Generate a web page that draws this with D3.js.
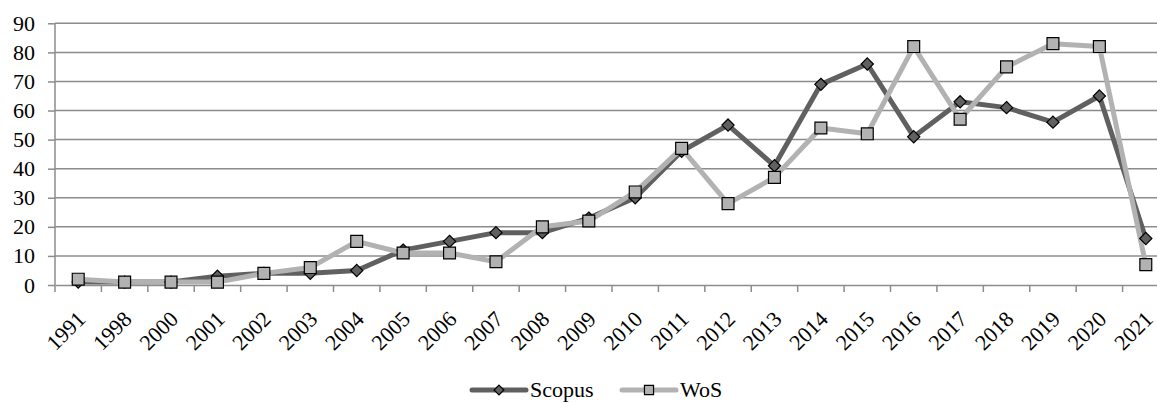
<!DOCTYPE html>
<html>
<head>
<meta charset="utf-8">
<script src="https://cdn.jsdelivr.net/npm/d3@7"></script>
<style>
  body { margin: 0; background: #fff; }
  svg { display: block; }
  svg text { font-family: "Liberation Serif", "Times New Roman", "DejaVu Serif", serif; }
</style>
</head>
<body>
<svg id="chart" width="1157" height="403"></svg>
<script>
var years = ['1991', '1998', '2000', '2001', '2002', '2003', '2004', '2005', '2006', '2007', '2008', '2009',
             '2010', '2011', '2012', '2013', '2014', '2015', '2016', '2017', '2018', '2019', '2020', '2021'];
var scopus = [1, 1, 1, 3, 4, 4, 5, 12, 15, 18, 18, 23, 30, 46, 55, 41, 69, 76, 51, 63, 61, 56, 65, 16];
var wos = [2, 1, 1, 1, 4, 6, 15, 11, 11, 8, 20, 22, 32, 47, 28, 37, 54, 52, 82, 57, 75, 83, 82, 7];
var yTicks = [0, 10, 20, 30, 40, 50, 60, 70, 80, 90];

var svg = d3.select('#chart'),
    plotLeft = 55, plotRight = 1169, plotTop = 23.3, plotBottom = 285;

var x = d3.scaleBand()
      .domain(years)
      .range([plotLeft, plotRight]);

var y = d3.scaleLinear()
      .domain([0, 90])
      .range([plotBottom, plotTop]);

var gridColor = '#8c8c8c';

// horizontal gridlines + y labels
var yAxis = svg.append('g')
    .attr('transform', 'translate(' + plotLeft + ',0)')
    .call(d3.axisLeft(y).tickValues(yTicks).tickSize(7).tickPadding(13).tickFormat(d3.format('d')));
yAxis.select('.domain').remove();
yAxis.attr('font-family', null);
yAxis.selectAll('.tick line').attr('stroke', gridColor).attr('stroke-width', 1.5);
yAxis.selectAll('.tick text')
    .attr('font-size', 22)
    .attr('fill', '#000');

svg.append('g')
  .selectAll('line')
  .data(yTicks.filter(function(d) { return d > 0; }))
  .join('line')
    .attr('x1', plotLeft)
    .attr('x2', plotRight)
    .attr('y1', function(d) { return y(d); })
    .attr('y2', function(d) { return y(d); })
    .attr('stroke', gridColor)
    .attr('stroke-width', 1.5);

// y axis line
svg.append('line')
    .attr('x1', plotLeft).attr('x2', plotLeft)
    .attr('y1', y(90)).attr('y2', y(0))
    .attr('stroke', gridColor)
    .attr('stroke-width', 1.5);

// x axis: ticks at category boundaries
var xAxis = svg.append('g')
    .attr('transform', 'translate(0,' + plotBottom + ')')
    .call(d3.axisBottom(x).tickSize(0).tickPadding(0));
xAxis.attr('font-family', null);
xAxis.select('.domain')
    .attr('stroke', gridColor)
    .attr('stroke-width', 1.5);
xAxis.selectAll('.tick text')
    .attr('font-size', 22)
    .attr('fill', '#000')
    .attr('text-anchor', 'end')
    .attr('dy', '0.35em')
    .attr('transform', 'translate(3,30) rotate(-45)');

svg.append('g')
  .selectAll('line')
  .data(years)
  .join('line')
    .attr('x1', function(d) { return x(d); })
    .attr('x2', function(d) { return x(d); })
    .attr('y1', plotBottom)
    .attr('y2', plotBottom + 7)
    .attr('stroke', gridColor)
    .attr('stroke-width', 1.5);

var cx = function(d, i) { return x(years[i]) + x.bandwidth() / 2; };

var line = d3.line()
    .x(function(d, i) { return cx(d, i); })
    .y(function(d) { return y(d); });

var series = [
  { name: 'Scopus', values: scopus, color: '#606060', shape: d3.symbolDiamond2, size: 95, legendSize: 62 },
  { name: 'WoS', values: wos, color: '#b2b2b2', shape: d3.symbolSquare2, size: 180, legendSize: 105 }
];

series.forEach(function(s) {
  svg.append('path')
      .attr('d', line(s.values))
      .attr('fill', 'none')
      .attr('stroke', s.color)
      .attr('stroke-width', 5)
      .attr('stroke-linejoin', 'round');
});

series.forEach(function(s) {
  svg.append('g')
    .selectAll('path')
    .data(s.values)
    .join('path')
      .attr('transform', function(d, i) { return 'translate(' + cx(d, i) + ',' + y(d) + ')'; })
      .attr('d', d3.symbol().type(s.shape).size(s.size))
      .attr('fill', s.color)
      .attr('stroke', '#000')
      .attr('stroke-width', 1.2);
});

// legend
var legend = svg.append('g').attr('transform', 'translate(0,390)');
var legendX = [472, 622];
series.forEach(function(s, i) {
  var g = legend.append('g').attr('transform', 'translate(' + legendX[i] + ',0)');
  g.append('line')
      .attr('x1', 0).attr('x2', 54)
      .attr('stroke', s.color)
      .attr('stroke-width', 5)
      .attr('stroke-linecap', 'round');
  g.append('path')
      .attr('transform', 'translate(27,0)')
      .attr('d', d3.symbol().type(s.shape).size(s.legendSize))
      .attr('fill', s.color)
      .attr('stroke', '#000')
      .attr('stroke-width', 1.2);
  g.append('text')
      .attr('x', 58)
      .attr('dy', '0.33em')
      .attr('font-size', 22)
      .attr('fill', '#000')
      .text(s.name);
});
</script>
</body>
</html>
